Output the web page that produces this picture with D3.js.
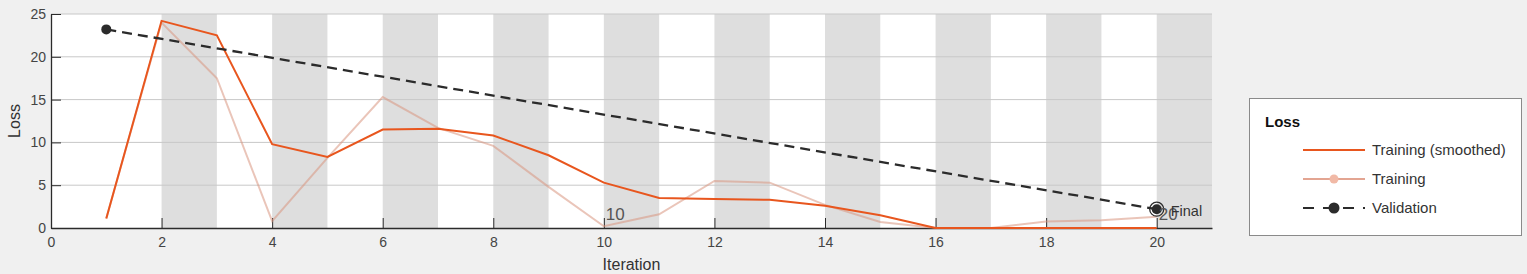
<!DOCTYPE html>
<html>
<head>
<meta charset="utf-8">
<script src="https://cdn.jsdelivr.net/npm/d3@7"></script>
<style>
  html, body { margin: 0; padding: 0; background: #f0f0f0; }
  svg { display: block; font-family: "Liberation Sans", Arial, sans-serif; }
</style>
</head>
<body>
<div id="viz"></div>
<script>
var WIDTH = 1527
var HEIGHT = 274

// data
var iterations = [1, 2, 3, 4, 5, 6, 7, 8, 9, 10, 11, 12, 13, 14, 15, 16, 17, 18, 19, 20];
var trainingSmoothed = [1.1, 24.2, 22.5, 9.8, 8.3, 11.5, 11.6, 10.8, 8.5, 5.3, 3.5, 3.4, 3.3, 2.6, 1.5, 0, 0, 0, 0, 0];
var trainingRaw = [1.1, 24.0, 17.5, 0.8, 8.2, 15.3, 11.7, 9.6, 4.8, 0.2, 1.6, 5.5, 5.3, 2.7, 0.7, 0, 0, 0.75, 0.9, 1.3];
var validationIter = [1, 20];
var validationLoss = [23.2, 2.2];
var epochBands = [2, 4, 6, 8, 10, 12, 14, 16, 18, 20];   // shaded epochs start here, 1 iteration wide
var epochLabels = [{ iter: 10, text: '10' }, { iter: 20, text: '20' }];
var xTicks = [0, 2, 4, 6, 8, 10, 12, 14, 16, 18, 20];
var yTicks = [0, 5, 10, 15, 20, 25];
var legendItems = ['Training (smoothed)', 'Training', 'Validation'];

var ORANGE = '#e8561e';
var DARK = '#2b2b2b';

var x = d3.scaleLinear().domain([0, 21]).range([51, 1212]);
var y = d3.scaleLinear().domain([0, 25]).range([228, 14]);

var svg = d3.select('#viz').append('svg')
    .attr('width', WIDTH)
    .attr('height', HEIGHT);

// plot area
svg.append('rect')
    .attr('x', x(0)).attr('y', y(25))
    .attr('width', x(21) - x(0)).attr('height', y(0) - y(25))
    .attr('fill', 'white');

svg.selectAll('.band')
    .data(epochBands)
    .enter()
    .append('rect')
    .attr('class', 'band')
    .attr('x', d => x(d))
    .attr('y', y(25))
    .attr('width', d => x(d + 1) - x(d))
    .attr('height', y(0) - y(25))
    .attr('fill', '#dedede');

// horizontal grid
svg.selectAll('.grid')
    .data(yTicks.filter(d => d > 0))
    .enter()
    .append('line')
    .attr('class', 'grid')
    .attr('x1', x(0)).attr('x2', x(21))
    .attr('y1', d => y(d)).attr('y2', d => y(d))
    .attr('stroke', '#c8c8c8')
    .attr('stroke-width', 1);

// axes
var xAxis = svg.append('g')
    .attr('transform', 'translate(0,' + y(0) + ')')
    .call(d3.axisBottom(x).tickValues(xTicks).tickSizeInner(-10).tickSizeOuter(0).tickPadding(6));
var yAxis = svg.append('g')
    .attr('transform', 'translate(' + x(0) + ',0)')
    .call(d3.axisLeft(y).tickValues(yTicks).tickSizeInner(-10).tickSizeOuter(0).tickPadding(5));

[xAxis, yAxis].forEach(a => {
    a.select('.domain').attr('stroke', DARK).attr('stroke-width', 1.3);
    a.selectAll('.tick line').attr('stroke', DARK);
    a.selectAll('.tick text').attr('fill', '#444').style('font-size', '14px')
        .style('font-family', '"Liberation Sans", Arial, sans-serif');
});
xAxis.selectAll('.tick text').attr('dy', '0.95em');

svg.append('text')
    .attr('x', (x(0) + x(21)) / 2)
    .attr('y', 270)
    .attr('text-anchor', 'middle')
    .attr('fill', '#333')
    .style('font-size', '16px')
    .text('Iteration');

svg.append('text')
    .attr('transform', 'translate(20,' + ((y(0) + y(25)) / 2) + ') rotate(-90)')
    .attr('text-anchor', 'middle')
    .attr('fill', '#333')
    .style('font-size', '16px')
    .text('Loss');

// lines
var line = d3.line()
    .x(d => x(d[0]))
    .y(d => y(d[1]));

svg.append('path')
    .datum(iterations.map((it, i) => [it, trainingRaw[i]]))
    .attr('d', line)
    .attr('fill', 'none')
    .attr('stroke', '#d9967f')
    .attr('stroke-opacity', 0.55)
    .attr('stroke-width', 2);

svg.append('path')
    .datum(iterations.map((it, i) => [it, trainingSmoothed[i]]))
    .attr('d', line)
    .attr('fill', 'none')
    .attr('stroke', ORANGE)
    .attr('stroke-width', 2);

svg.append('path')
    .datum(validationIter.map((it, i) => [it, validationLoss[i]]))
    .attr('d', line)
    .attr('fill', 'none')
    .attr('stroke', DARK)
    .attr('stroke-width', 2.3)
    .attr('stroke-dasharray', '10,6');

svg.selectAll('.vdot')
    .data(validationIter.map((it, i) => [it, validationLoss[i]]))
    .enter()
    .append('circle')
    .attr('class', 'vdot')
    .attr('cx', d => x(d[0]))
    .attr('cy', d => y(d[1]))
    .attr('r', 5)
    .attr('fill', DARK);

// final validation marker
var last = validationIter.length - 1;
svg.append('circle')
    .attr('cx', x(validationIter[last]))
    .attr('cy', y(validationLoss[last]))
    .attr('r', 7)
    .attr('fill', 'none')
    .attr('stroke', DARK)
    .attr('stroke-width', 1.3);

// epoch labels
svg.selectAll('.epochLabel')
    .data(epochLabels)
    .enter()
    .append('text')
    .attr('class', 'epochLabel')
    .attr('x', d => x(d.iter) + 2)
    .attr('y', 220)
    .attr('fill', '#555')
    .style('font-size', '17px')
    .text(d => d.text);

svg.append('text')
    .attr('x', x(validationIter[last]) + 14)
    .attr('y', 216)
    .attr('fill', '#333')
    .style('font-size', '14.5px')
    .text('Final');

// legend
var lg = svg.append('g');
lg.append('rect')
    .attr('x', 1249.5).attr('y', 98.5)
    .attr('width', 272).attr('height', 137)
    .attr('fill', 'white')
    .attr('stroke', '#8a8a8a');
lg.append('text')
    .attr('x', 1265).attr('y', 127)
    .attr('fill', '#111')
    .style('font-size', '15px')
    .style('font-weight', 'bold')
    .text('Loss');

var rows = lg.selectAll('.row')
    .data(legendItems)
    .enter()
    .append('g')
    .attr('transform', (d, i) => 'translate(0,' + (150 + i * 29) + ')');

rows.append('line')
    .attr('x1', 1303).attr('x2', 1365)
    .attr('stroke', (d, i) => i == 2 ? DARK : (i == 1 ? '#e3a592' : ORANGE))
    .attr('stroke-width', 2)
    .attr('stroke-dasharray', (d, i) => i == 2 ? '11,9' : null);

rows.filter((d, i) => i > 0)
    .append('circle')
    .attr('cx', 1334)
    .attr('r', (d, i) => i == 0 ? 4.5 : 5.5)
    .attr('fill', (d, i) => i == 0 ? '#f1b9a6' : DARK);

rows.append('text')
    .attr('x', 1372).attr('dy', '0.35em')
    .attr('fill', '#333')
    .style('font-size', '15px')
    .text(d => d);
</script>
</body>
</html>
